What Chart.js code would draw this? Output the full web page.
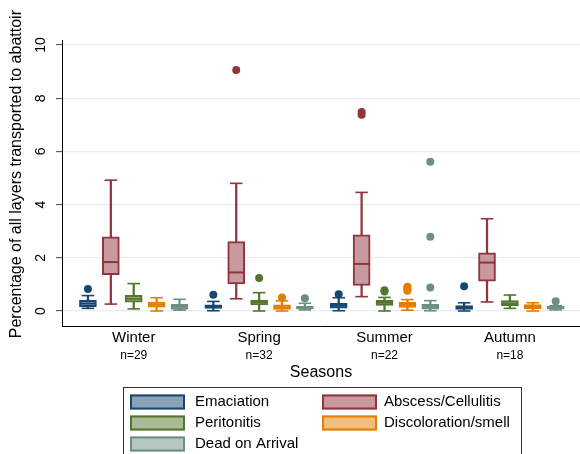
<!DOCTYPE html>
<html><head><meta charset="utf-8">
<script src="https://cdn.jsdelivr.net/npm/chart.js@4.4.1/dist/chart.umd.min.js"></script>
<style>html,body{margin:0;padding:0;background:#fff;}</style>
</head><body>
<canvas id="c" width="580" height="454"></canvas>
<script>
// ---- data ----
const seasons = ['Winter', 'Spring', 'Summer', 'Autumn'];
const seasonCounts = ['n=29', 'n=32', 'n=22', 'n=18'];
const yTicks = [0, 2, 4, 6, 8, 10];
const seriesNames = ['Emaciation', 'Abscess/Cellulitis', 'Peritonitis', 'Discoloration/smell', 'Dead on Arrival'];

// per season: [lower whisker, Q1, median, Q3, upper whisker]
const emaciation    = [[0.10, 0.16, 0.28, 0.40, 0.58], [0.01, 0.10, 0.16, 0.23, 0.36], [0.01, 0.11, 0.20, 0.29, 0.50], [0.00, 0.06, 0.14, 0.20, 0.31]];
const abscess       = [[0.26, 1.37, 1.84, 2.79, 4.92], [0.46, 1.02, 1.45, 2.61, 4.80], [0.54, 0.96, 1.77, 2.86, 4.46], [0.34, 1.12, 1.82, 2.19, 3.47]];
const peritonitis   = [[0.08, 0.33, 0.46, 0.59, 1.03], [0.00, 0.23, 0.33, 0.41, 0.69], [0.00, 0.21, 0.31, 0.40, 0.51], [0.10, 0.20, 0.28, 0.39, 0.60]];
const discoloration = [[0.00, 0.14, 0.24, 0.34, 0.50], [0.00, 0.06, 0.14, 0.23, 0.38], [0.03, 0.13, 0.23, 0.33, 0.43], [0.00, 0.09, 0.16, 0.24, 0.31]];
const deadOnArrival = [[0.03, 0.06, 0.16, 0.25, 0.44], [0.04, 0.08, 0.13, 0.18, 0.29], [0.01, 0.07, 0.16, 0.25, 0.39], [0.04, 0.07, 0.13, 0.18, 0.20]];

// outside values per season
const emaciationOut    = [[0.83], [0.61], [0.63], [0.93]];
const abscessOut       = [[], [9.06], [7.48, 7.38], []];
const peritonitisOut   = [[], [1.24], [0.78, 0.73], []];
const discolorationOut = [[], [0.51], [0.91, 0.86, 0.81, 0.76], []];
const deadOnArrivalOut = [[], [0.48], [0.88, 2.79, 5.61], [0.37]];

// ---- styling ----
const seriesStats = [emaciation, abscess, peritonitis, discoloration, deadOnArrival];
const seriesOut = [emaciationOut, abscessOut, peritonitisOut, discolorationOut, deadOnArrivalOut];
const strokeColors = ['#1a476f', '#90353b', '#55752f', '#e37e00', '#6e8e84'];
const fillColors   = ['#8ca3b7', '#c89a9d', '#aaba97', '#f1be80', '#b6c6c1'];
const FONT = '"Liberation Sans", Arial, Helvetica, sans-serif';
const slot = 0.1826;
const xPos = (s, g) => g + 1 + (s - 2) * slot;

const datasets = [];
seriesStats.forEach((stats, s) => {
  const stroke = strokeColors[s], fill = fillColors[s];
  datasets.push({
    type: 'bar', data: stats.map((v, g) => ({x: xPos(s, g), y: [v[0], v[4]]})),
    backgroundColor: stroke, borderWidth: 0, barThickness: 1.6, grouped: false, order: 6
  });
  datasets.push({
    type: 'bar', label: seriesNames[s], legendItem: true,
    data: stats.map((v, g) => ({x: xPos(s, g), y: [v[1], v[3]]})),
    backgroundColor: fill, borderColor: stroke, borderWidth: 2, borderSkipped: false,
    barThickness: 17, grouped: false, order: 5
  });
  datasets.push({
    type: 'scatter', data: stats.map((v, g) => ({x: xPos(s, g), y: v[2]})),
    pointStyle: 'line', pointRadius: 8, pointHoverRadius: 8, pointBorderWidth: 2, pointBorderColor: stroke, order: 3
  });
  const caps = [];
  stats.forEach((v, g) => { caps.push({x: xPos(s, g), y: v[0]}); caps.push({x: xPos(s, g), y: v[4]}); });
  datasets.push({
    type: 'scatter', data: caps,
    pointStyle: 'line', pointRadius: 6.3, pointHoverRadius: 6.3, pointBorderWidth: 1.6, pointBorderColor: stroke, order: 3
  });
  const outs = [];
  seriesOut[s].forEach((list, g) => list.forEach(v => outs.push({x: xPos(s, g), y: v})));
  datasets.push({
    type: 'scatter', data: outs,
    pointStyle: 'circle', pointRadius: 4, pointHoverRadius: 4, pointBackgroundColor: stroke, pointBorderWidth: 0, order: 1
  });
});

const boxLegend = {
  id: 'boxLegend',
  afterDraw(chart) {
    const ctx = chart.ctx;
    const items = chart.data.datasets.filter(d => d.legendItem);
    ctx.save();
    ctx.strokeStyle = '#333';
    ctx.lineWidth = 1;
    ctx.strokeRect(123.5, 387.5, 398, 100);
    items.forEach((d, i) => {
      const col = i % 2, row = Math.floor(i / 2);
      const x = 130 + col * 192, y = 394.5 + row * 21;
      ctx.fillStyle = d.backgroundColor;
      ctx.fillRect(x, y, 55, 15);
      ctx.strokeStyle = d.borderColor;
      ctx.lineWidth = 2;
      ctx.strokeRect(x + 1, y + 1, 53, 13);
      ctx.fillStyle = '#000';
      ctx.font = '15px ' + FONT;
      ctx.textBaseline = 'middle';
      ctx.textAlign = 'left';
      ctx.fillText(d.label, col === 0 ? 195 : 384, y + 7.5);
    });
    ctx.restore();
  }
};

new Chart(document.getElementById('c'), {
  type: 'scatter',
  data: {datasets},
  plugins: [boxLegend],
  options: {
    responsive: false,
    animation: false,
    events: [],
    devicePixelRatio: 1,
    layout: {autoPadding: false, padding: {top: 40, left: 0, right: 0, bottom: 72}},
    plugins: {legend: {display: false}, tooltip: {enabled: false}},
    scales: {
      x: {
        type: 'linear', position: 'bottom', weight: 0, min: 0.428, max: 4.559, bounds: 'data', offset: false,
        grid: {display: false, drawTicks: false, offset: false},
        border: {display: true, color: '#000', width: 1},
        afterBuildTicks: sc => { sc.ticks = seasons.map((_, i) => ({value: i + 1})); },
        afterFit: sc => { sc.height = 21; sc.paddingLeft = 0; sc.paddingRight = 0; },
        ticks: {
          autoSkip: false, maxRotation: 0, minRotation: 0, padding: 3, color: '#000',
          font: {family: FONT, size: 15},
          callback: v => seasons[Math.round(v) - 1]
        }
      },
      x2: {
        type: 'linear', axis: 'x', position: 'bottom', weight: 1, min: 0.428, max: 4.559, bounds: 'data', offset: false,
        grid: {display: false, drawTicks: false},
        border: {display: false},
        afterBuildTicks: sc => { sc.ticks = seasonCounts.map((_, i) => ({value: i + 1})); },
        afterFit: sc => { sc.height = 35; sc.paddingLeft = 0; sc.paddingRight = 0; },
        ticks: {
          autoSkip: false, maxRotation: 0, minRotation: 0, padding: 1, color: '#000',
          font: {family: FONT, size: 12},
          callback: v => seasonCounts[Math.round(v) - 1]
        },
        title: {display: true, text: 'Seasons', color: '#000', font: {family: FONT, size: 16}, padding: {top: 0, bottom: 0}}
      },
      y: {
        type: 'linear', position: 'left', min: -0.564, max: 10.19, bounds: 'data',
        afterBuildTicks: sc => { sc.ticks = yTicks.map(v => ({value: v})); },
        afterFit: sc => { sc.width = 62; sc.paddingTop = 0; sc.paddingBottom = 0; },
        grid: {display: true, color: '#e6eef0', lineWidth: 1.3, drawTicks: true, tickLength: 6, tickColor: '#444', tickWidth: 1},
        border: {display: true, color: '#000', width: 1},
        ticks: {
          minRotation: 90, maxRotation: 90, crossAlign: 'center', padding: 7, color: '#000',
          font: {family: FONT, size: 14},
          callback: v => String(v)
        },
        title: {display: true, text: '    Percentage of all layers transported to abattoir', color: '#000',
          font: {family: FONT, size: 16}, padding: {top: 7, bottom: 0}}
      }
    }
  }
});
</script>
</body></html>
